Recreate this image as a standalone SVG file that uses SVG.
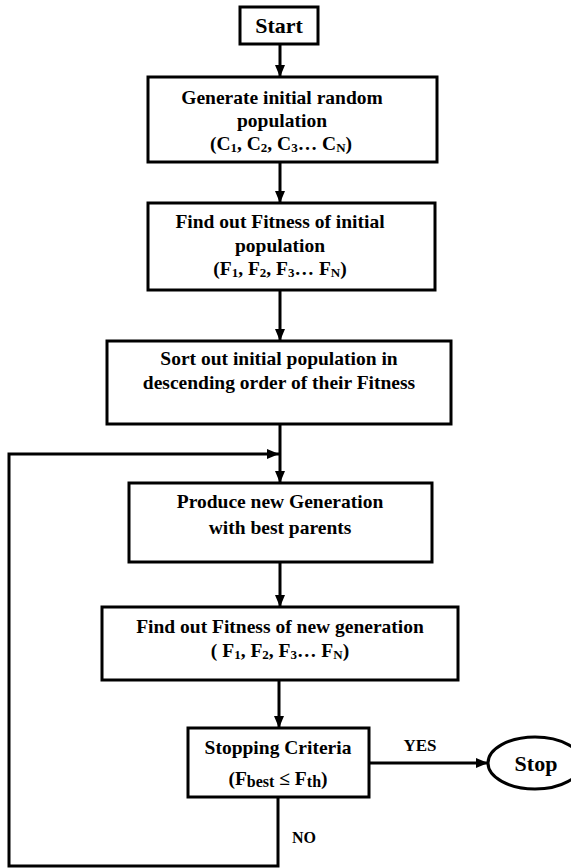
<svg xmlns="http://www.w3.org/2000/svg" width="571" height="868" viewBox="0 0 571 868">
<style>
.box{fill:#fff;stroke:#000;stroke-width:3}
.t{font-family:"Liberation Serif","Times New Roman",serif;font-weight:bold;font-size:19.5px;fill:#000;text-anchor:middle}
.s{font-size:13px}
.c{fill:none;stroke:#000;stroke-width:3}
</style>
<defs>
<marker id="ah" markerUnits="userSpaceOnUse" markerWidth="12" markerHeight="12" viewBox="0 0 12 12" refX="12" refY="6" orient="auto">
<path d="M0,1 L12,6 L0,11 Z" fill="#000"/>
</marker>
</defs>
<g id="connectors">
<line class="c" x1="280" y1="44" x2="280" y2="77" marker-end="url(#ah)"/>
<line class="c" x1="280" y1="162" x2="280" y2="203" marker-end="url(#ah)"/>
<line class="c" x1="280" y1="290" x2="280" y2="341" marker-end="url(#ah)"/>
<line class="c" x1="280" y1="424" x2="280" y2="483" marker-end="url(#ah)"/>
<line class="c" x1="280" y1="562" x2="280" y2="607" marker-end="url(#ah)"/>
<line class="c" x1="279" y1="680" x2="279" y2="728" marker-end="url(#ah)"/>
<line class="c" x1="369" y1="763" x2="488" y2="763" marker-end="url(#ah)"/>
<polyline class="c" points="278,797 278,866 9,866 9,454 279,454" marker-end="url(#ah)"/>
<text class="t" x="420" y="751" style="font-size:17px">YES</text>
<text class="t" x="304" y="843" style="font-size:16px">NO</text>
</g>
<g id="start">
<rect class="box" x="240" y="7" width="78" height="37"/>
<text class="t" x="279" y="33" style="font-size:22px">Start</text>
</g>
<g id="generate">
<rect class="box" x="148" y="77" width="289" height="85"/>
<text class="t" x="282" y="104">Generate initial random</text>
<text class="t" x="282" y="127">population</text>
<text class="t" x="281" y="150">(C<tspan class="s" dy="2">1</tspan><tspan dy="-2">, C</tspan><tspan class="s" dy="2">2</tspan><tspan dy="-2">, C</tspan><tspan class="s" dy="2">3</tspan><tspan dy="-2">… C</tspan><tspan class="s" dy="2">N</tspan><tspan dy="-2">)</tspan></text>
</g>
<g id="fitness-initial">
<rect class="box" x="148" y="203" width="287" height="87"/>
<text class="t" x="280" y="228">Find out Fitness of initial</text>
<text class="t" x="280" y="252">population</text>
<text class="t" x="280" y="275">(F<tspan class="s" dy="2">1</tspan><tspan dy="-2">, F</tspan><tspan class="s" dy="2">2</tspan><tspan dy="-2">, F</tspan><tspan class="s" dy="2">3</tspan><tspan dy="-2">… F</tspan><tspan class="s" dy="2">N</tspan><tspan dy="-2">)</tspan></text>
</g>
<g id="sort">
<rect class="box" x="107" y="341" width="344" height="83"/>
<text class="t" x="279" y="365">Sort out initial population in</text>
<text class="t" x="279" y="389">descending order of their Fitness</text>
</g>
<g id="produce">
<rect class="box" x="129" y="483" width="303" height="79"/>
<text class="t" x="280" y="508">Produce new Generation</text>
<text class="t" x="280" y="534">with best parents</text>
</g>
<g id="fitness-new">
<rect class="box" x="102" y="607" width="356" height="73"/>
<text class="t" x="280" y="633">Find out Fitness of new generation</text>
<text class="t" x="280" y="657">( F<tspan class="s" dy="2">1</tspan><tspan dy="-2">, F</tspan><tspan class="s" dy="2">2</tspan><tspan dy="-2">, F</tspan><tspan class="s" dy="2">3</tspan><tspan dy="-2">… F</tspan><tspan class="s" dy="2">N</tspan><tspan dy="-2">)</tspan></text>
</g>
<g id="stopping">
<rect class="box" x="188" y="728" width="181" height="69"/>
<text class="t" x="278" y="754">Stopping Criteria</text>
<text class="t" x="278" y="785">(F<tspan style="font-size:16px" dy="2">best</tspan><tspan dy="-2"> ≤ F</tspan><tspan style="font-size:16px" dy="2">th</tspan><tspan dy="-2">)</tspan></text>
</g>
<g id="stop">
<ellipse class="box" cx="535" cy="763" rx="47" ry="26"/>
<text class="t" x="536" y="771" style="font-size:22px">Stop</text>
</g>
</svg>
